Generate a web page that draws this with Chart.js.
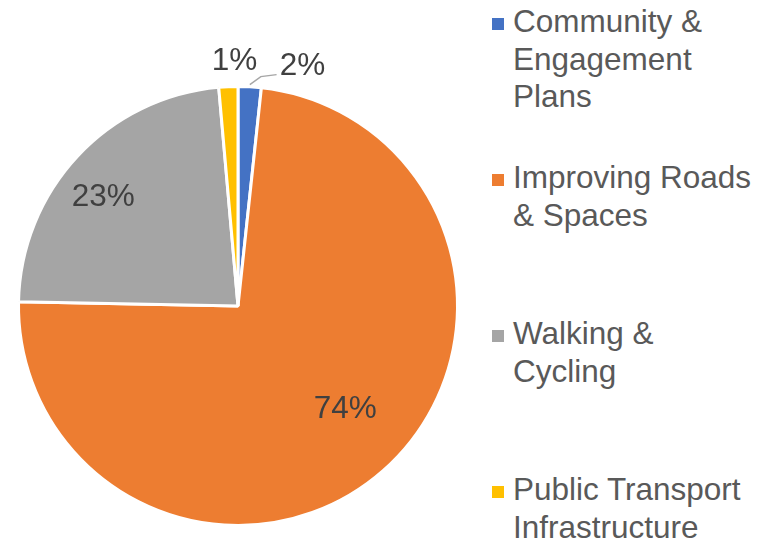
<!DOCTYPE html>
<html>
<head>
<meta charset="utf-8">
<script src="https://cdn.jsdelivr.net/npm/chart.js@4"></script>
<style>
  html, body { margin: 0; padding: 0; background: #fff; }
  body { width: 772px; height: 538px; position: relative; overflow: hidden; font-family: "Liberation Sans", Arial, sans-serif; }
  #chartBox { position: absolute; left: 0; top: 0; width: 476px; height: 538px; }
  #legend { position: absolute; left: 490px; top: 3px; width: 282px; }
  .item { position: relative; height: 156px; }
  .swatch { position: absolute; left: 2px; top: 15px; width: 12px; height: 12px; }
  .text { position: absolute; left: 23px; top: 0; font-size: 31.5px; line-height: 37.5px; color: #595959; white-space: nowrap; }
</style>
</head>
<body>
<div id="chartBox"><canvas id="pieChart"></canvas></div>
<div id="legend"></div>
<script>
// Data
const categories = ['Community & Engagement Plans', 'Improving Roads & Spaces', 'Walking & Cycling', 'Public Transport Infrastructure'];
const legendLines = [['Community &', 'Engagement', 'Plans'], ['Improving Roads', '& Spaces'], ['Walking &', 'Cycling'], ['Public Transport', 'Infrastructure']];
const shares = [1.7, 73.6, 23.3, 1.4];
const colors = ['#4472C4', '#ED7D31', '#A5A5A5', '#FFC000'];

// Label placement per slice: inside (fraction of radius) or outside
const labelPlace = [
    { dist: 1.13, shift: 0.21, leader: true },
    { dist: 0.68, shift: -0.08 },
    { dist: 0.79, shift: -0.07 },
    { dist: 1.115, shift: 0.03 }
];

// HTML legend
const legendEl = document.getElementById('legend');
categories.forEach((c, i) => {
    const item = document.createElement('div');
    item.className = 'item';
    item.innerHTML = '<div class="swatch" style="background:' + colors[i] + '"></div>' +
        '<div class="text">' + legendLines[i].map(s => s.replace('&', '&amp;')).join('<br>') + '</div>';
    legendEl.appendChild(item);
});

const pctLabels = {
    id: 'pctLabels',
    afterDatasetsDraw(chart) {
        const ctx = chart.ctx;
        const meta = chart.getDatasetMeta(0);
        const total = shares.reduce((a, b) => a + b, 0);
        ctx.save();
        ctx.font = '31.5px "Liberation Sans", Arial, sans-serif';
        ctx.fillStyle = '#404040';
        ctx.textAlign = 'center';
        ctx.textBaseline = 'middle';
        meta.data.forEach((arc, i) => {
            const p = arc.getProps(['x', 'y', 'startAngle', 'endAngle', 'outerRadius'], true);
            const mid = (p.startAngle + p.endAngle) / 2;
            const place = labelPlace[i];
            const ang = mid + place.shift;
            const r = p.outerRadius * place.dist;
            const lx = p.x + Math.cos(ang) * r;
            const ly = p.y + Math.sin(ang) * r;
            if (place.leader) {
                const ex = p.x + Math.cos(mid) * p.outerRadius * 1.01;
                const ey = p.y + Math.sin(mid) * p.outerRadius * 1.01;
                ctx.strokeStyle = '#A6A6A6';
                ctx.lineWidth = 1.5;
                ctx.beginPath();
                ctx.moveTo(ex, ey);
                ctx.lineTo(ex + 11, ey - 8);
                ctx.lineTo(lx - 26, ey - 10);
                ctx.stroke();
            }
            ctx.fillText(Math.round(shares[i] / total * 100) + '%', lx, ly);
        });
        ctx.restore();
    }
};

new Chart(document.getElementById('pieChart'), {
    type: 'pie',
    data: {
        labels: categories,
        datasets: [{
            data: shares,
            backgroundColor: colors,
            borderColor: '#ffffff',
            borderWidth: 3
        }]
    },
    options: {
        responsive: true,
        maintainAspectRatio: false,
        animation: false,
        layout: { padding: { left: 17, right: 17, top: 85, bottom: 11 } },
        plugins: {
            legend: { display: false },
            tooltip: { enabled: false }
        }
    },
    plugins: [pctLabels]
});
</script>
</body>
</html>
